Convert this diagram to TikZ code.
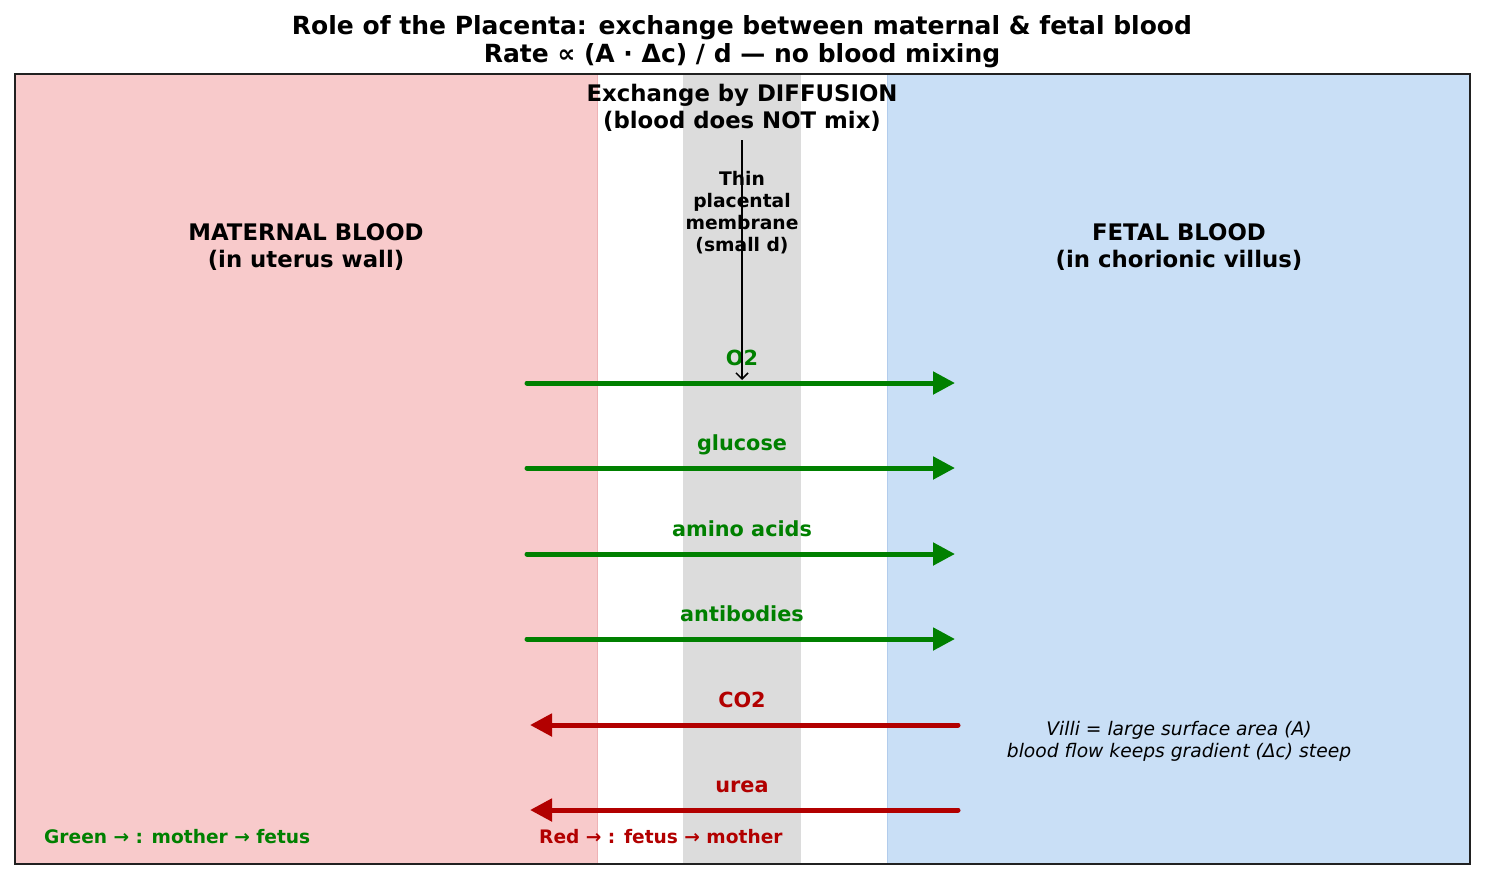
\documentclass[tikz,border=0pt]{standalone}
\usepackage{fontspec}
\setmainfont{DejaVu Sans}
\usepackage{tikz}
\usetikzlibrary{arrows.meta,positioning}
\definecolor{maternal}{RGB}{248,202,203}
\definecolor{maternaledge}{RGB}{238,178,181}
\definecolor{fetal}{RGB}{201,223,246}
\definecolor{fetaledge}{RGB}{178,204,236}
\definecolor{membrane}{RGB}{220,220,220}
\definecolor{tofetus}{RGB}{0,128,0}
\definecolor{tomother}{RGB}{178,0,0}
\tikzset{
  heading/.style={font=\bfseries\fontsize{22.8}{27}\selectfont, align=center},
  thin label/.style={font=\bfseries\fontsize{18.7}{22}\selectfont, align=center},
  substance/.style={font=\bfseries\fontsize{20.8}{24}\selectfont, anchor=base},
  legend/.style={font=\bfseries\fontsize{18.6}{22}\selectfont, anchor=west, inner sep=0pt},
  flow/.style={line width=5pt, line cap=round, -{Triangle[length=22pt,width=22pt]}}
}

\begin{document}
\begin{tikzpicture}[x=1pt,y=-1pt]
\useasboundingbox (0,0) rectangle (1485,879);

% blood regions and membrane
\filldraw[fill=maternal, draw=maternaledge, line width=1pt] (15,74) rectangle (597,864);
\fill[membrane] (683,74) rectangle (801,864);
\filldraw[fill=fetal, draw=fetaledge, line width=1pt] (887,74) rectangle (1470,864);
\draw[line width=1.5pt, black!87] (15,74) rectangle (1470,864);

% titles
\node[font=\bfseries\fontsize{25}{28}\selectfont, align=center] (title) at (742,41.5) {Role of the Placenta: exchange between maternal \& fetal blood\\Rate ∝ (A · Δc) / d — no blood mixing};
\node[heading] (diffusion) at (742,108) {Exchange by DIFFUSION\\(blood does NOT mix)};
\node[heading] (maternal) at (306,247) {MATERNAL BLOOD\\(in uterus wall)};
\node[heading] (fetal) at (1179,247) {FETAL BLOOD\\(in chorionic villus)};
\node[thin label] (membr) at (742,212.5) {Thin\\placental\\membrane\\(small d)};

% mother -> fetus
\foreach \name/\yy [count=\i] in {O2/383, glucose/468, amino acids/554, antibodies/639}
{
\coordinate (gain\i l) at (527,\yy);
\coordinate (gain\i r) at (955,\yy);
\draw[flow, tofetus] (gain\i l) -- (gain\i r);
\node[substance, text=tofetus] (gainlab\i) at (742,\yy-18) {\name};
}

% fetus -> mother
\foreach \name/\yy [count=\i] in {CO2/725, urea/810}
{
\coordinate (loss\i r) at (958,\yy);
\coordinate (loss\i l) at (530,\yy);
\draw[flow, tomother] (loss\i r) -- (loss\i l);
\node[substance, text=tomother] (losslab\i) at (742,\yy-18) {\name};
}

% membrane pointer
\coordinate (mtop) at (742,140);
\coordinate (mbot) at (742,380);
\draw[line width=1.5pt, -{Straight Barb[length=6pt,width=12pt]}] (mtop) -- (mbot);

\node[font=\itshape\fontsize{18.7}{22}\selectfont, align=center] (villi) at (1179,741.5) {Villi = large surface area (A)\\blood flow keeps gradient (Δc) steep};
\node[legend, text=tofetus] (greenkey) at (44,837) {Green → : mother → fetus};
\node[legend, text=tomother] (redkey) at (539,837) {Red → : fetus → mother};
\end{tikzpicture}
\end{document}
